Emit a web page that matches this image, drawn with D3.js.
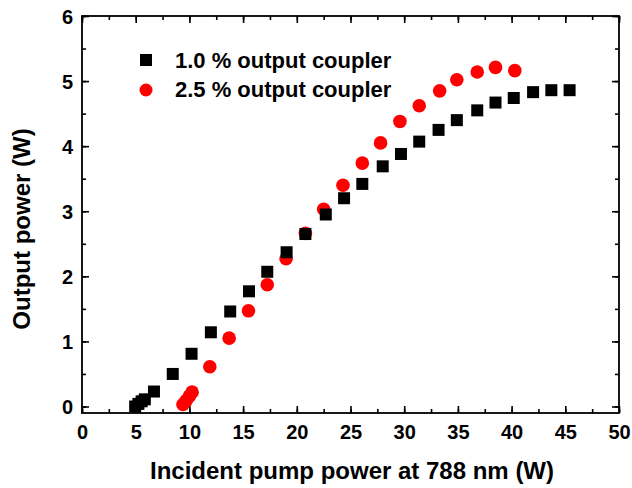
<!DOCTYPE html>
<html><head><meta charset="utf-8">
<script src="https://cdn.jsdelivr.net/npm/d3@7"></script>
<style>body{margin:0;background:#fff}svg{display:block}text{font-family:"Liberation Sans",Arial,sans-serif;font-weight:bold}</style>
</head><body><svg id="c" width="632" height="488"></svg>
<script>
const xTicks=[0,5,10,15,20,25,30,35,40,45,50];
const yTicks=[0,1,2,3,4,5,6];
const s1x=[4.95,5.25,5.55,5.85,6.7,8.45,10.2,12.0,13.8,15.55,17.25,19.05,20.8,22.7,24.4,26.1,28.0,29.7,31.4,33.2,34.9,36.8,38.5,40.2,42.0,43.7,45.4];
const s1y=[0.0,0.04,0.08,0.11,0.23,0.50,0.81,1.14,1.46,1.77,2.07,2.37,2.65,2.95,3.20,3.42,3.69,3.88,4.07,4.25,4.40,4.55,4.67,4.74,4.83,4.86,4.86];
const s2x=[9.4,9.7,10.0,10.25,11.9,13.7,15.5,17.25,19.0,20.8,22.5,24.3,26.1,27.8,29.6,31.4,33.3,34.9,36.8,38.5,40.3];
const s2y=[0.03,0.09,0.16,0.22,0.61,1.05,1.47,1.87,2.27,2.66,3.03,3.40,3.74,4.05,4.38,4.62,4.85,5.02,5.14,5.21,5.16];
const labels=["1.0 % output coupler","2.5 % output coupler"];

const svg=d3.select("#c");
const L=82,R=619,T=16,B=413;
const x=d3.scaleLinear().domain([0,50]).range([L,R]);
const y=d3.scaleLinear().domain([-0.1,6]).range([B,T]);

svg.append("rect").attr("x",L).attr("y",T).attr("width",R-L).attr("height",B-T).attr("fill","none").attr("stroke","#000").attr("stroke-width",1.8);

const xMinor=d3.range(0,50.01,2.5), yMinor=d3.range(0,6.01,0.5);
function ax(axisGen,tr,vals,minorVals,showLabels){
  const a=svg.append("g").attr("transform",tr);
  a.call(axisGen.tickValues(minorVals).tickSize(-4).tickFormat(""));
  a.selectAll("path").remove();
  const b=svg.append("g").attr("transform",tr);
  b.call(axisGen.tickValues(vals).tickSize(-7).tickPadding(10).tickFormat(showLabels?d3.format("d"):""));
  b.selectAll("path").remove();
  svg.selectAll("g.tick line").attr("stroke","#000").attr("stroke-width",1.6);
  return b;
}
const bx=ax(d3.axisBottom(x),`translate(0,${B})`,xTicks,xMinor,true);
bx.selectAll("text").attr("font-size",20).attr("y",12).attr("dy","0.71em");
const ly=ax(d3.axisLeft(y),`translate(${L},0)`,yTicks,yMinor,true);
ly.selectAll("text").attr("font-size",20).attr("x",-9).attr("dy","0.36em");
ax(d3.axisTop(x),`translate(0,${T})`,xTicks,xMinor,false);
ax(d3.axisRight(y),`translate(${R},0)`,yTicks,yMinor,false);
svg.selectAll("g.tick text").attr("fill","#000").style("font-family","Liberation Sans, Arial, sans-serif").style("font-weight","bold");

const d1=s1x.map((v,i)=>[v,s1y[i]]), d2=s2x.map((v,i)=>[v,s2y[i]]);
const sq=12;
svg.append("g").selectAll("circle").data(d2).join("circle")
 .attr("cx",d=>x(d[0])).attr("cy",d=>y(d[1])).attr("r",6.8).attr("fill","#ff0000");
svg.append("g").selectAll("rect").data(d1).join("rect")
 .attr("x",d=>x(d[0])-sq/2).attr("y",d=>y(d[1])-sq/2).attr("width",sq).attr("height",sq).attr("fill","#000");

svg.append("rect").attr("x",140).attr("y",54).attr("width",sq).attr("height",sq).attr("fill","#000");
svg.append("circle").attr("cx",146).attr("cy",90).attr("r",6.5).attr("fill","#ff0000");
svg.append("text").attr("x",175).attr("y",68).attr("font-size",22).text(labels[0]);
svg.append("text").attr("x",175).attr("y",97).attr("font-size",22).text(labels[1]);

svg.append("text").attr("x",352).attr("y",479).attr("text-anchor","middle").attr("font-size",24).text("Incident pump power at 788 nm (W)");
svg.append("text").attr("transform","translate(30,229) rotate(-90)").attr("text-anchor","middle").attr("font-size",24).text("Output power (W)");
</script></body></html>
